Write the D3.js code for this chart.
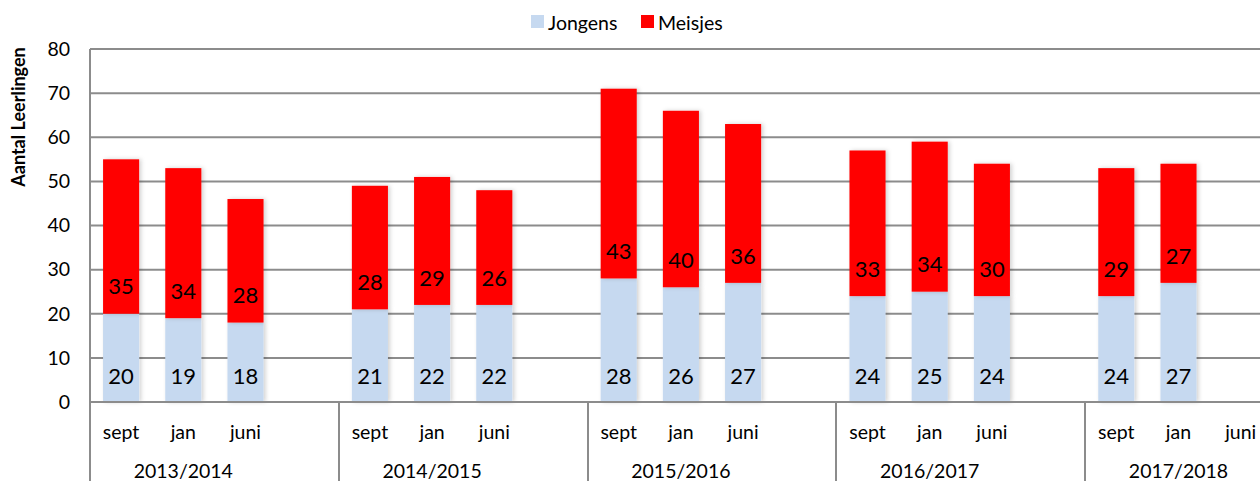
<!DOCTYPE html>
<html>
<head>
<meta charset="utf-8">
<script src="https://cdn.jsdelivr.net/npm/d3@7"></script>
<style>
  body { margin: 0; background: #fff; }
  svg { display: block; font-family: Lato, "Open Sans", sans-serif; }
</style>
</head>
<body>
<div id="chart"></div>
<script>
// data
var years = ["2013/2014", "2014/2015", "2015/2016", "2016/2017", "2017/2018"];
var months = ["sept", "jan", "juni"];
var jongens = [20, 19, 18, 21, 22, 22, 28, 26, 27, 24, 25, 24, 24, 27, null];
var meisjes = [35, 34, 28, 28, 29, 26, 43, 40, 36, 33, 34, 30, 29, 27, null];
var yTicks = [0, 10, 20, 30, 40, 50, 60, 70, 80];

var svgWidth = 1260, svgHeight = 481;
var margin = { top: 49, left: 90 };
var plotBottom = 402;
var slotsPerYear = 4; // 3 months + one empty slot

var svg = d3.select("#chart").append("svg")
    .attr("width", svgWidth)
    .attr("height", svgHeight);

// soft shadow like the original
var defs = svg.append("defs");
var f = defs.append("filter").attr("id", "shadow")
    .attr("x", "-20%").attr("y", "-5%").attr("width", "140%").attr("height", "110%");
f.append("feDropShadow").attr("dx", 2).attr("dy", 0).attr("stdDeviation", 2)
    .attr("flood-color", "#000").attr("flood-opacity", 0.18);

// build slot keys
var slots = [];
years.forEach(function (y) {
    for (var i = 0; i < slotsPerYear; i++) slots.push(y + "|" + i);
});

var rows = [];
years.forEach(function (y, yi) {
    months.forEach(function (m, mi) {
        var k = yi * months.length + mi;
        rows.push({ key: y + "|" + mi, year: y, month: m, j: jongens[k], m: meisjes[k] });
    });
});

var step = 62.2;
var x = d3.scaleBand()
    .domain(slots)
    .range([margin.left, margin.left + step * slots.length])
    .paddingInner(0.42)
    .paddingOuter(0.21);

var y = d3.scaleLinear()
    .domain([0, 80])
    .range([plotBottom, margin.top]);

// gridlines
svg.append("g").selectAll("line")
    .data(yTicks.filter(function (d) { return d > 0; }))
    .enter().append("line")
    .attr("x1", margin.left).attr("x2", svgWidth)
    .attr("y1", function (d) { return y(d); })
    .attr("y2", function (d) { return y(d); })
    .attr("stroke", "#8c8c8c")
    .attr("stroke-width", 2);

// y tick labels
svg.append("g").selectAll("text")
    .data(yTicks)
    .enter().append("text")
    .attr("x", 70)
    .attr("y", function (d) { return y(d); })
    .attr("dy", "0.35em")
    .attr("text-anchor", "end")
    .attr("font-size", "19.5px")
    .attr("fill", "#000")
    .text(function (d) { return d; });

// y axis title
svg.append("text")
    .attr("transform", "translate(19,117) rotate(-90)")
    .attr("text-anchor", "middle")
    .attr("dy", "0.35em")
    .attr("font-size", "18px")
    .attr("font-weight", "bold")
    .text("Aantal Leerlingen");

var valid = rows.filter(function (d) { return d.j != null; });
var bw = x.bandwidth();

// bars
var barG = svg.append("g");
barG.selectAll("rect.j")
    .data(valid)
    .enter().append("rect")
    .attr("class", "j")
    .attr("x", function (d) { return x(d.key); })
    .attr("y", function (d) { return y(d.j); })
    .attr("width", bw)
    .attr("height", function (d) { return y(0) - y(d.j); })
    .attr("fill", "#c6d9f0")
    .attr("filter", "url(#shadow)");

barG.selectAll("rect.m")
    .data(valid)
    .enter().append("rect")
    .attr("class", "m")
    .attr("x", function (d) { return x(d.key); })
    .attr("y", function (d) { return y(d.j + d.m); })
    .attr("width", bw)
    .attr("height", function (d) { return y(d.j) - y(d.j + d.m); })
    .attr("fill", "#ff0000")
    .attr("filter", "url(#shadow)");

// value labels (inside base)
var labG = svg.append("g").attr("font-size", "22px").attr("text-anchor", "middle");
labG.selectAll("text.j")
    .data(valid)
    .enter().append("text")
    .attr("x", function (d) { return x(d.key) + bw / 2; })
    .attr("y", y(0) - 26)
    .attr("dy", "0.35em")
    .text(function (d) { return d.j; });

labG.selectAll("text.m")
    .data(valid)
    .enter().append("text")
    .attr("x", function (d) { return x(d.key) + bw / 2; })
    .attr("y", function (d) { return y(d.j) - 27; })
    .attr("dy", "0.35em")
    .text(function (d) { return d.m; });

// axes lines
svg.append("line")
    .attr("x1", margin.left).attr("x2", margin.left)
    .attr("y1", margin.top).attr("y2", svgHeight)
    .attr("stroke", "#8c8c8c").attr("stroke-width", 2);
svg.append("line")
    .attr("x1", margin.left).attr("x2", svgWidth)
    .attr("y1", plotBottom).attr("y2", plotBottom)
    .attr("stroke", "#8c8c8c").attr("stroke-width", 2);

// group separators
svg.append("g").selectAll("line")
    .data(years.slice(1))
    .enter().append("line")
    .attr("x1", function (d) { return Math.round(x(d + "|0") - x.step() * 0.21) ; })
    .attr("x2", function (d) { return Math.round(x(d + "|0") - x.step() * 0.21) ; })
    .attr("y1", plotBottom).attr("y2", svgHeight)
    .attr("stroke", "#8c8c8c").attr("stroke-width", 2);

// month labels
svg.append("g").selectAll("text")
    .data(rows)
    .enter().append("text")
    .attr("x", function (d) { return x(d.key) + bw / 2; })
    .attr("y", 432)
    .attr("dy", "0.35em")
    .attr("text-anchor", "middle")
    .attr("font-size", "19.5px")
    .text(function (d) { return d.month; });

// year labels
svg.append("g").selectAll("text")
    .data(years)
    .enter().append("text")
    .attr("x", function (d) { return x(d + "|1") + bw / 2; })
    .attr("y", 471)
    .attr("dy", "0.35em")
    .attr("text-anchor", "middle")
    .attr("font-size", "19.5px")
    .text(function (d) { return d; });

// legend
var legend = svg.append("g").attr("font-size", "19.5px");
var items = [
    { name: "Jongens", color: "#c6d9f0", x: 531 },
    { name: "Meisjes", color: "#ff0000", x: 641 }
];
items.forEach(function (it) {
    legend.append("rect")
        .attr("x", it.x).attr("y", 15)
        .attr("width", 13).attr("height", 13)
        .attr("fill", it.color);
    legend.append("text")
        .attr("x", it.x + 17).attr("y", 23)
        .attr("dy", "0.35em")
        .text(it.name);
});
</script>
</body>
</html>
